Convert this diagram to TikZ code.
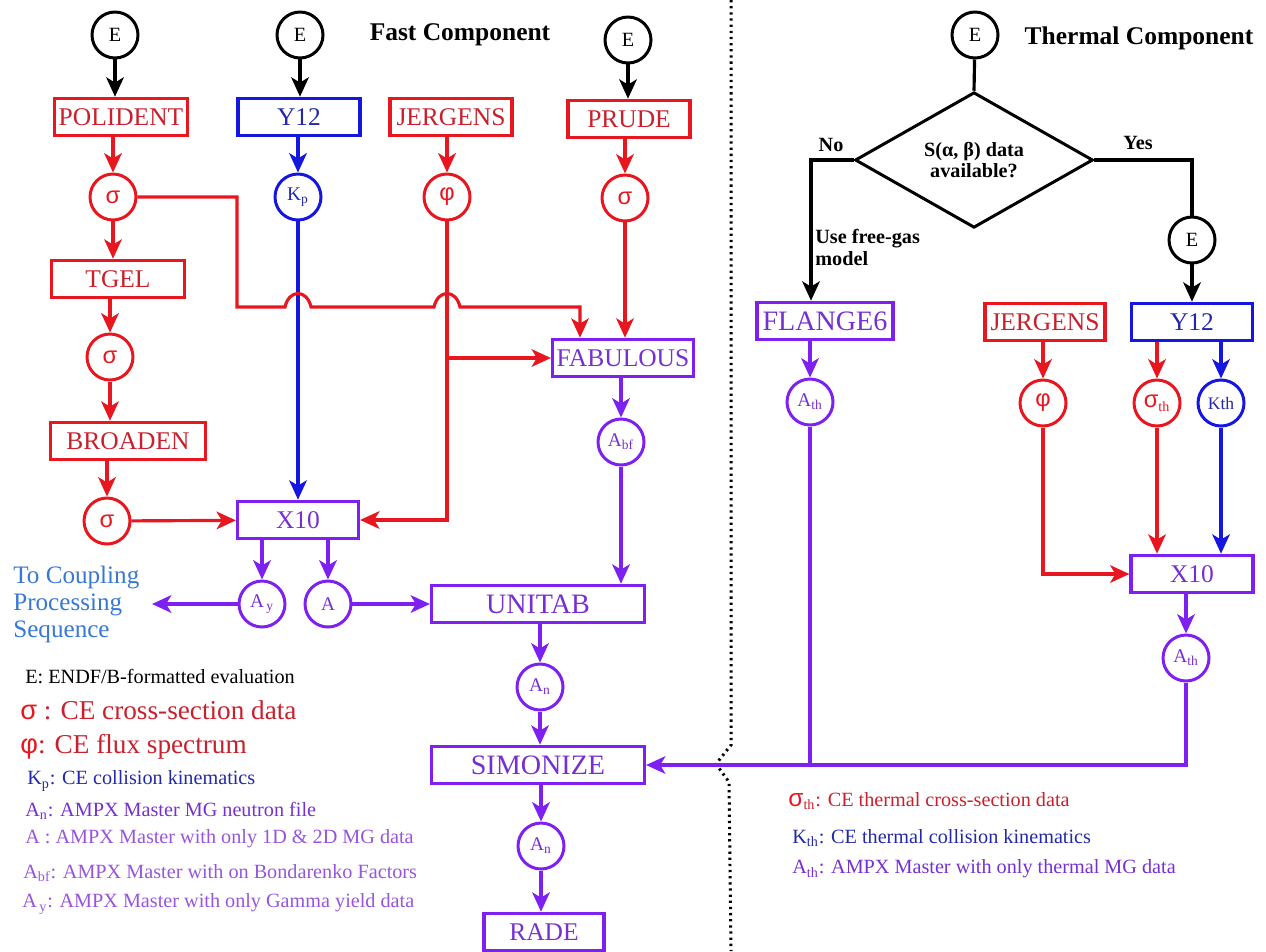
\documentclass[tikz,border=0pt]{standalone}
\usepackage{fontspec}
\setmainfont{Liberation Serif}
\newfontfamily\sansgr{Liberation Sans}
\usetikzlibrary{arrows.meta,shapes.geometric,calc}
\definecolor{cred}{RGB}{232,22,30}
\definecolor{credt}{RGB}{200,32,45}
\definecolor{cblue}{RGB}{22,22,225}
\definecolor{cbluet}{RGB}{35,40,170}
\definecolor{cpur}{RGB}{125,32,240}
\definecolor{cpurt}{RGB}{118,48,210}
\definecolor{cpurl}{RGB}{150,85,220}
\definecolor{ccoup}{RGB}{55,120,210}
\tikzset{
  box/.style={draw, line width=1.8pt, minimum height=0.75cm, inner sep=0pt, font=\fontsize{14.5}{16}\selectfont},
  bigbox/.style={font=\fontsize{16}{18}\selectfont},
  rbox/.style={box, draw=cred, text=credt},
  bbox/.style={box, draw=cblue, text=cbluet},
  pbox/.style={box, draw=cpur, text=cpurt},
  circ/.style={circle, draw, line width=1.7pt, minimum size=0.92cm, inner sep=0pt},
  ecirc/.style={circ, draw=black, font=\fontsize{11.5}{12}\selectfont},
  rc/.style={circ, draw=cred, text=cred, font=\sansgr\fontsize{13.5}{13.5}\selectfont},
  bc/.style={circ, draw=cblue, text=cbluet, font=\fontsize{11}{11}\selectfont},
  pc/.style={circ, draw=cpur, text=cpurt, font=\fontsize{11}{11}\selectfont},
  arr/.style={line width=1.8pt, -{Stealth[length=11pt,width=10pt,inset=3pt]}},
  ln/.style={line width=1.8pt},
  title/.style={font=\bfseries\fontsize{14.5}{16}\selectfont},
  blab/.style={font=\bfseries\fontsize{11.5}{12.5}\selectfont},
  leg/.style={anchor=west, inner sep=0pt, font=\fontsize{11.5}{13}\selectfont},
  bigleg/.style={anchor=west, inner sep=0pt, font=\fontsize{15.5}{17}\selectfont},
}
\begin{document}
\begin{tikzpicture}[x=0.02cm,y=-0.02cm]
\useasboundingbox (0,0) rectangle (1266,951);

% ---------- Fast component ----------
\node[title] (tf) at (460,35) {Fast Component};
\node[ecirc] (e1) at (115,35) {E};
\node[ecirc] (e2) at (300,35) {E};
\node[ecirc] (e3) at (628,40) {E};

\node[rbox, minimum width=2.66cm] (pol) at (121,117) {POLIDENT};
\node[bbox, minimum width=2.44cm] (y12) at (299,117) {Y12};
\node[rbox, minimum width=2.44cm] (jer) at (451,117) {JERGENS};
\node[rbox, minimum width=2.44cm] (pru) at (629,119) {PRUDE};

\node[rc] (s1) at (113,197) {σ};
\node[bc] (kp) at (298,197) {K\textsubscript{p}};
\node[rc] (phi) at (447,197) {φ};
\node[rc] (sp) at (625,198) {σ};

\node[rbox, minimum width=2.66cm] (tgel) at (118,279) {TGEL};
\node[rc] (s2) at (110,357) {σ};
\node[rbox, minimum width=3.1cm] (bro) at (128,441) {BROADEN};
\node[rc] (s3) at (107,521) {σ};

\node[pbox, minimum width=2.42cm] (x10) at (298,520) {X10};
\node[pbox, minimum width=2.82cm] (fab) at (623,358) {FABULOUS};
\node[pc] (abf) at (621,442) {A\textsubscript{bf}};

\node[pc] (ay) at (262,604) {A\textsubscript{\,y}};
\node[pc] (aa) at (328,604) {A};
\node[pbox, bigbox, minimum width=4.26cm] (uni) at (538,604) {UNITAB};
\node[pc] (an1) at (540,687) {A\textsubscript{n}};
\node[pbox, bigbox, minimum width=4.26cm] (sim) at (538,765) {SIMONIZE};
\node[pc] (an2) at (541,846) {A\textsubscript{n}};
\node[pbox, minimum width=2.4cm] (rade) at (544,932) {RADE};

\node[anchor=west, align=left, text=ccoup, inner sep=0pt,
      font=\fontsize{14.3}{15.4}\selectfont] (cpl) at (13,604)
      {To Coupling\\Processing\\Sequence};
\coordinate (cplend) at (152,604);

% fast connectors
\draw[arr] (e1) -- (e1 |- pol.north);
\draw[arr] (e2) -- (e2 |- y12.north);
\draw[arr] (e3) -- (e3 |- pru.north);
\draw[arr,cred] (s1 |- pol.south) -- (s1);
\draw[arr,cred] (s1) -- (s1 |- tgel.north);
\draw[arr,cred] (s2 |- tgel.south) -- (s2);
\draw[arr,cred] (s2) -- (s2 |- bro.north);
\draw[arr,cred] (s3 |- bro.south) -- (s3);
\draw[arr,cred] (s3) -- (x10);
\draw[arr,cblue] (kp |- y12.south) -- (kp);
\draw[arr,cblue] (kp) -- (kp |- x10.north);
\draw[arr,cred] (phi |- jer.south) -- (phi);
\draw[arr,cred] (sp |- pru.south) -- (sp);
\draw[arr,cred] (sp) -- (sp |- fab.north);
\draw[arr,cred] (phi) |- (x10);
\coordinate (br) at (phi |- fab);
\draw[arr,cred] (br) -- (fab);
\coordinate (c1) at (237,197);
\coordinate (c2) at (237,307);
\coordinate (hopend) at (580,307);
\draw[arr,cred] (s1) -- (c1) -- (c2) -- (285,307)
   .. controls (289,289) and (307,289) .. (311,307) -- (434,307)
   .. controls (438,289) and (456,289) .. (460,307) -- (hopend)
   -- (hopend |- fab.north);
\draw[arr,cpur] (abf |- fab.south) -- (abf);
\draw[arr,cpur] (abf) -- (abf |- uni.north);
\draw[arr,cpur] (ay |- x10.south) -- (ay);
\draw[arr,cpur] (aa |- x10.south) -- (aa);
\draw[arr,cpur] (ay) -- (cplend);
\draw[arr,cpur] (aa) -- (uni);
\draw[arr,cpur] (an1 |- uni.south) -- (an1);
\draw[arr,cpur] (an1) -- (an1 |- sim.north);
\draw[arr,cpur] (an2 |- sim.south) -- (an2);
\draw[arr,cpur] (an2) -- (an2 |- rade.north);

% ---------- divider ----------
\draw[line width=1.7pt, dash pattern=on 1.3pt off 2.2pt]
  (731,0) -- (731,745) -- (716,764) -- (729,782) -- (731,951);

% ---------- Thermal component ----------
\node[title] (tt) at (1139,38) {Thermal Component};
\node[ecirc] (et) at (975,35) {E};
\node[diamond, draw, line width=1.7pt, minimum width=4.76cm, minimum height=2.54cm,
      inner sep=0pt, align=center, font=\bfseries\fontsize{11.5}{12}\selectfont]
      (dia) at (974,160) {S(α, β) data\\available?};
\node[blab] (no) at (831,145) {No};
\node[blab] (yes) at (1138,143) {Yes};
\node[blab, anchor=west, align=left, inner sep=0pt] (fg) at (815,247) {Use free-gas\\model};
\node[ecirc] (e4) at (1192,240) {E};

\node[pbox, bigbox, minimum width=2.72cm] (fl) at (825,321) {FLANGE6};
\node[rbox, minimum width=2.4cm] (jt) at (1045,322) {JERGENS};
\node[bbox, minimum width=2.42cm] (yt) at (1192,322) {Y12};
\node[pc] (ath1) at (810,402) {A\textsubscript{th}};
\node[rc] (pt) at (1043,403) {φ};
\node[rc] (sth) at (1157,403) {σ\textsubscript{\rmfamily\fontsize{8}{8}\selectfont th}};
\node[bc, font=\fontsize{10}{10}\selectfont] (kth) at (1221,403) {Kth};
\node[pbox, minimum width=2.44cm] (xt) at (1192,574) {X10};
\node[pc] (ath2) at (1186,658) {A\textsubscript{th}};

\coordinate (noc) at (811,160);
\coordinate (yesc) at (1192,160);
\draw[ln] (et) -- (dia.north);
\draw[arr] (dia.west) -- (noc) -- (noc |- fl.north);
\draw[ln] (dia.east) -- (yesc) -- (e4);
\draw[arr] (e4) -- (yt);
\draw[arr,cpur] (ath1 |- fl.south) -- (ath1);
\draw[arr,cred] (pt |- jt.south) -- (pt);
\draw[arr,cred] (sth |- yt.south) -- (sth);
\draw[arr,cblue] (kth |- yt.south) -- (kth);
\draw[arr,cred] (sth) -- (sth |- xt.north);
\draw[arr,cblue] (kth) -- (kth |- xt.north);
\draw[arr,cred] (pt) |- (xt);
\draw[arr,cpur] (ath2 |- xt.south) -- (ath2);
\draw[ln,cpur] (ath1) -- (ath1 |- sim);
\draw[arr,cpur] (ath2) |- (sim);

% ---------- legends ----------
\node[leg] (l1) at (25,677) {E: ENDF/B-formatted evaluation};
\node[bigleg, text=credt] (l2) at (20,710) {{\sansgr\color{cred}σ} : CE cross-section data};
\node[bigleg, text=credt] (l3) at (20,747) {{\sansgr\color{cred}φ}: CE flux spectrum};
\node[leg, text=cbluet] (l4) at (27,781) {K\textsubscript{p}: CE collision kinematics};
\node[leg, text=cpurt] (l5) at (25,811) {A\textsubscript{n}: AMPX Master MG neutron file};
\node[leg, text=cpurl] (l6) at (25,839) {A : AMPX Master with only 1D \& 2D MG data};
\node[leg, text=cpurl] (l7) at (23,873) {A\textsubscript{bf}: AMPX Master with on Bondarenko Factors};
\node[leg, text=cpurl] (l8) at (22,904) {A\textsubscript{\,y}: AMPX Master with only Gamma yield data};

\node[leg, text=credt] (r1) at (788,801) {{\sansgr\color{cred}\fontsize{14}{14}\selectfont σ}\textsubscript{th}: CE thermal cross-section data};
\node[leg, text=cbluet] (r2) at (792,838) {K\textsubscript{th}: CE thermal collision kinematics};
\node[leg, text=cpurt] (r3) at (792,869) {A\textsubscript{th}: AMPX Master with only thermal MG data};
\end{tikzpicture}
\end{document}
